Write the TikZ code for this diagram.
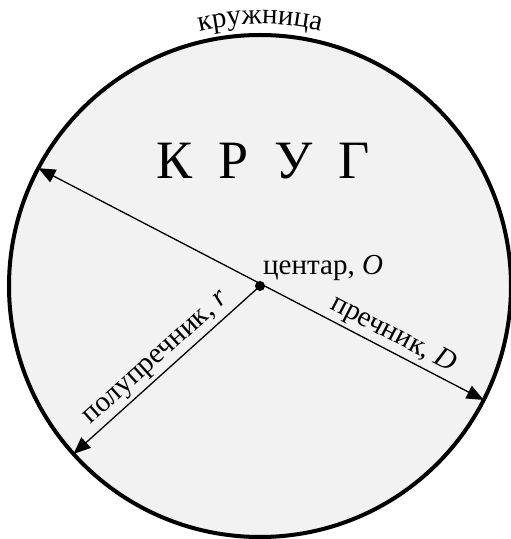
\documentclass[tikz,border=0pt]{standalone}
\usepackage{fontspec}
\setmainfont{Liberation Serif}
\usetikzlibrary{arrows.meta,decorations.text,calc}
\definecolor{circlefill}{RGB}{242,242,242}

\begin{document}
\begin{tikzpicture}[x=1pt, y=1pt,
    krug/.style={circle, draw=black, line width=4pt, fill=circlefill, minimum size=502pt, inner sep=0pt, outer sep=0pt},
    dot/.style={circle, fill=black, minimum size=10pt, inner sep=0pt},
    dim/.style={line width=1.3pt, {Triangle[length=17pt,width=14pt]}-{Triangle[length=17pt,width=14pt]}},
    label/.style={font=\fontsize{29}{34}\selectfont, inner sep=3pt},
    title/.style={font=\fontsize{54}{60}\selectfont, inner sep=0pt}
]
\useasboundingbox (0,0) rectangle (511,539);

% Circle and centre
\node[krug] (krug) at (260,253) {};
\node[dot] (centar) at (260,253) {};

% Title
\node[title, anchor=base] (naslov) at (263,360) {К\hspace{0.48em}Р\hspace{0.48em}У\hspace{0.48em}Г};

% Circumference label
\path[decorate, decoration={text along path, text align=center,
    text={|\fontsize{29}{34}\selectfont|кружница}}]
    ($(krug.center)+(110:262)$) arc[start angle=110, end angle=70, radius=262];

% Diameter and radius
\draw[dim] (krug.152.5) -- node[label, pos=0.78, sloped, above] {пречник, \textit{D}} (krug.-27.5);
\draw[dim, {Triangle[length=17pt,width=14pt]}-] (krug.222.7) -- node[label, midway, sloped, above] {полупречник, \textit{r}} (centar.center);

\node[label, anchor=base west, inner sep=0pt] (centtxt) at (263,264) {центар, \textit{O}};
\end{tikzpicture}
\end{document}
